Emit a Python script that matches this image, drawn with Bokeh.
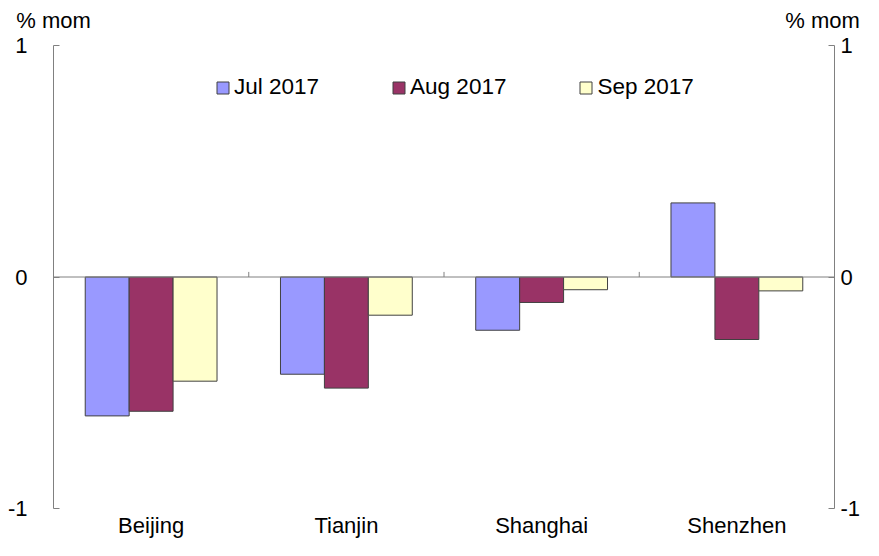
from bokeh.plotting import figure
from bokeh.models import (Range1d, LinearAxis, FixedTicker, Span, ColumnDataSource)
from bokeh.transform import dodge
from bokeh.embed import file_html
from bokeh.resources import INLINE

# ---- data ----
cities = ["Beijing", "Tianjin", "Shanghai", "Shenzhen"]
jul_2017 = [-0.60, -0.42, -0.23, 0.32]
aug_2017 = [-0.58, -0.48, -0.11, -0.27]
sep_2017 = [-0.45, -0.165, -0.055, -0.06]
series_names = ["Jul 2017", "Aug 2017", "Sep 2017"]
y_ticks = [-1, 0, 1]
y_tick_labels = {-1: "-1", 0: "0", 1: "1"}
y_unit = "% mom"

# ---- style ----
FONT = "Liberation Sans"
FS = "22px"
colors = ["#9999FF", "#993366", "#FFFFCC"]
axis_col = "#808080"
bar_w = 0.225

idx = list(range(len(cities)))
src = ColumnDataSource(dict(x=idx, jul=jul_2017, aug=aug_2017, sep=sep_2017))

p = figure(x_range=Range1d(-0.5, len(cities) - 0.5), y_range=Range1d(y_ticks[0], y_ticks[-1]),
           width=863, height=540, output_backend="svg", toolbar_location=None,
           min_border_left=53, min_border_right=26, min_border_top=45, min_border_bottom=29)
p.outline_line_color = None
p.xgrid.grid_line_color = None
p.ygrid.grid_line_color = None
p.background_fill_color = "white"
p.border_fill_color = "white"

for i, (col, name) in enumerate(zip(["jul", "aug", "sep"], series_names)):
    p.vbar(x=dodge("x", (i - 1) * bar_w), top=col, bottom=0, width=bar_w,
           source=src, fill_color=colors[i], line_color="#404040", line_width=1, legend_label=name)

# zero line
p.add_layout(Span(location=0, dimension="width", line_color=axis_col, line_width=1))
# category boundary ticks on the zero line
bounds = [i + 0.5 for i in idx[:-1]]
p.segment(x0=bounds, x1=bounds, y0=[0] * len(bounds), y1=[0.022] * len(bounds),
          line_color=axis_col, line_width=1)

# x axis (category labels only)
xa = p.xaxis[0]
xa.ticker = FixedTicker(ticks=idx)
xa.major_label_overrides = {i: c for i, c in zip(idx, cities)}
xa.axis_line_color = None
xa.major_tick_line_color = None
xa.minor_tick_line_color = None
xa.major_tick_out = 0
xa.major_tick_in = 0
xa.major_label_standoff = 4
xa.major_label_text_line_height = 1.0
xa.major_label_text_font = FONT
xa.major_label_text_font_size = FS
xa.major_label_text_color = "black"

def style_y(ax, standoff):
    ax.ticker = FixedTicker(ticks=y_ticks)
    ax.major_label_overrides = y_tick_labels
    ax.major_tick_in = 6
    ax.major_tick_out = 0
    ax.minor_tick_line_color = None
    ax.axis_line_color = axis_col
    ax.major_tick_line_color = axis_col
    ax.major_label_standoff = standoff
    ax.major_label_text_font = FONT
    ax.major_label_text_font_size = FS
    ax.major_label_text_color = "black"

style_y(p.yaxis[0], 26)
ra = LinearAxis()
style_y(ra, 6)
p.add_layout(ra, "right")

# unit labels above the left and right axes (an unlined axis on top)
p.extra_x_ranges = {"unit": Range1d(0, 1.0155)}
ua = LinearAxis(x_range_name="unit", ticker=FixedTicker(ticks=[0, 1]),
                major_label_overrides={0: y_unit, 1: y_unit})
ua.axis_line_color = None
ua.major_tick_line_color = None
ua.minor_tick_line_color = None
ua.major_tick_in = 0
ua.major_tick_out = 0
ua.major_label_standoff = 13
ua.major_label_text_font = FONT
ua.major_label_text_font_size = FS
ua.major_label_text_color = "black"
p.add_layout(ua, "above")

lg = p.legend[0]
lg.orientation = "horizontal"
lg.location = (162, 408)
lg.border_line_color = None
lg.background_fill_alpha = 0
lg.padding = 0
lg.margin = 0
lg.glyph_width = 15
lg.glyph_height = 15
lg.label_standoff = 4
lg.spacing = 72
lg.label_text_font = FONT
lg.label_text_font_size = "22.5px"
lg.label_text_color = "black"

open("out.html", "w").write(file_html(p, INLINE))
